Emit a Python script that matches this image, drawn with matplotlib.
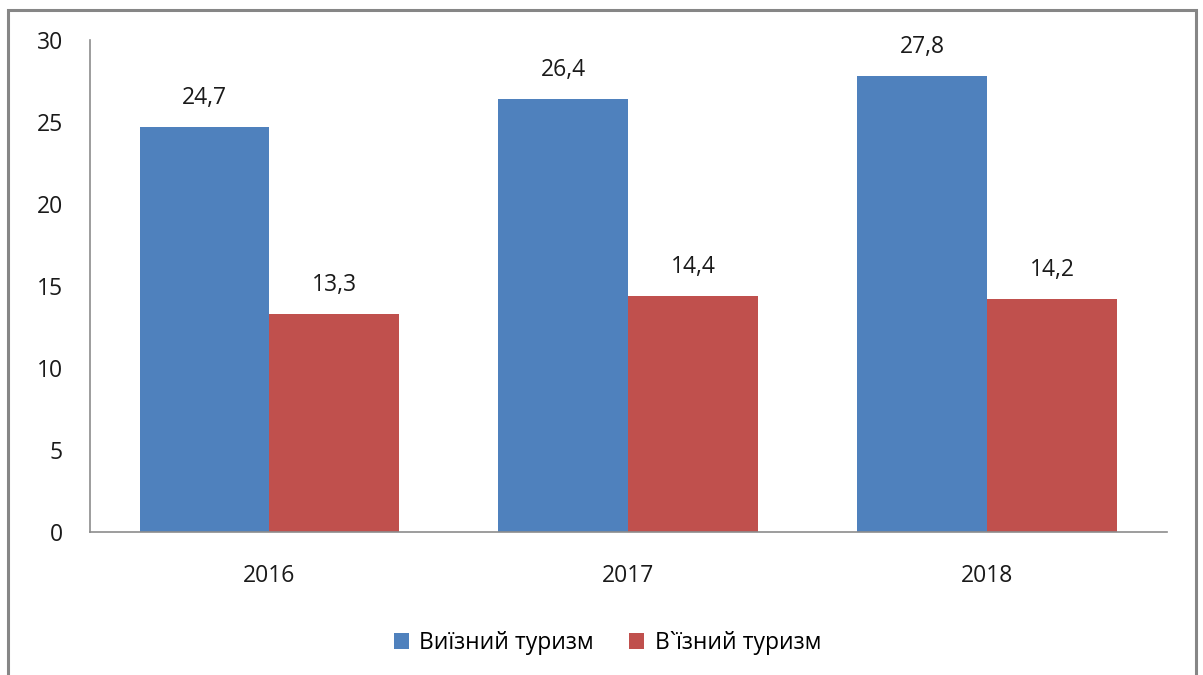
import numpy as np
import matplotlib
matplotlib.use('Agg')
import matplotlib.pyplot as plt
from matplotlib.patches import Rectangle

# chart data
years = ['2016', '2017', '2018']
outbound = [24.7, 26.4, 27.8]
inbound = [13.3, 14.4, 14.2]
series_names = ['Виїзний туризм', 'В`їзний туризм']
y_ticks = [0, 5, 10, 15, 20, 25, 30]

blue = '#4F81BD'
red = '#C0504D'
axis_grey = '#8C8C8C'
fs = 16.5

plt.rcParams['font.family'] = ['Open Sans', 'DejaVu Sans']

fig = plt.figure(figsize=(12.03, 6.75), dpi=100)
ax = fig.add_axes([0.0748, 0.2119, 0.8952, 0.7288])

# outer frame like the office chart area
fig.patches.append(Rectangle((8/1203, -0.05), (1196-8)/1203, 1.05 - 10/675,
                             transform=fig.transFigure, fill=False,
                             edgecolor='#868686', linewidth=2.2))

x = np.arange(len(years))
w = 0.362
b1 = ax.bar(x - w/2, outbound, w, color=blue, label=series_names[0])
b2 = ax.bar(x + w/2, inbound, w, color=red, label=series_names[1])

for bars, vals in ((b1, outbound), (b2, inbound)):
  for bar, v in zip(bars, vals):
    ax.annotate(('%.1f' % v).replace('.', ','),
                (bar.get_x() + bar.get_width()/2, v),
                xytext=(0, 12), textcoords='offset points',
                ha='center', va='bottom', fontsize=fs, color='#1a1a1a')

ax.set_xlim(-0.5, 2.5)
ax.set_ylim(0, 30)
ax.set_xticks(x)
ax.set_xticklabels(years)
ax.set_yticks(y_ticks)
ax.tick_params(axis='both', length=0, labelsize=fs, colors='#1a1a1a')
ax.tick_params(axis='y', pad=19.5)
ax.tick_params(axis='x', pad=23)

for side in ('top', 'right'):
  ax.spines[side].set_visible(False)
for side in ('left', 'bottom'):
  ax.spines[side].set_color(axis_grey)
  ax.spines[side].set_linewidth(1.2)

leg = fig.legend(loc='center', bbox_to_anchor=(0.505, 1 - 643/675), ncol=2,
                 frameon=False, fontsize=fs, handlelength=0.65,
                 handleheight=0.65, handletextpad=0.45, columnspacing=1.55)

fig.savefig('out.png', dpi=100)
